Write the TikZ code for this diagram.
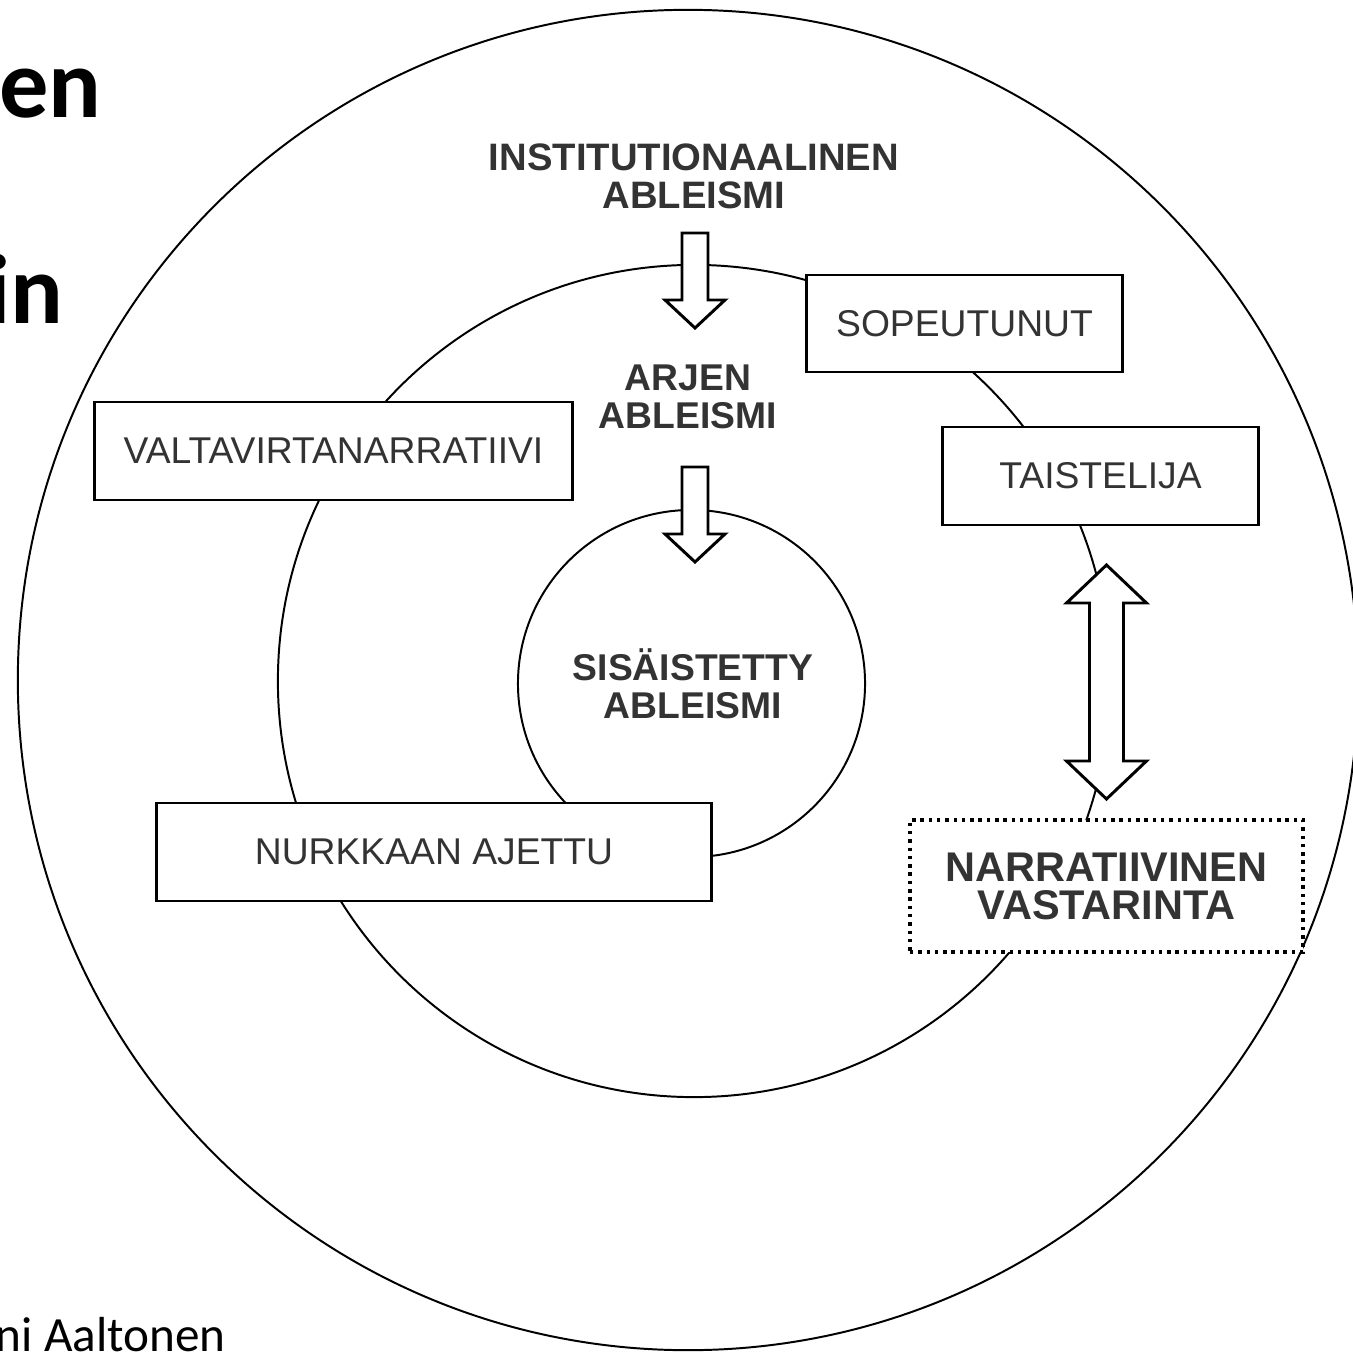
\documentclass[tikz,border=0pt]{standalone}
\usepackage{fontspec}
\setmainfont{Liberation Sans}
\newfontfamily\slidefont{Carlito}
\usetikzlibrary{positioning}
\definecolor{txtgray}{HTML}{333333}

\begin{document}
\begin{tikzpicture}[
  x=0.025cm, y=-0.025cm,
  ring/.style={draw, circle, line width=1.4pt, inner sep=0pt},
  box/.style={draw, rectangle, line width=2.1pt, fill=white, minimum height=2.45cm, inner sep=0pt, text=txtgray, font=\fontsize{26.5}{32}\selectfont},
  level/.style={align=center, inner sep=0pt, text=txtgray, font=\bfseries\fontsize{26.5}{27}\selectfont},
  counter/.style={draw, rectangle, line width=2.5pt, dash pattern=on 2.5pt off 3.4pt, fill=white, minimum width=9.825cm, minimum height=3.3cm, align=center, text=txtgray, font=\bfseries\fontsize{29.5}{27}\selectfont},
  blockarrow/.style={draw, line width=2.1pt, fill=white, line join=miter},
  downarrow/.pic={\path[blockarrow] (-13,0) -- (13,0) -- (13,67) -- (30,67) -- (0,95) -- (-30,67) -- (-13,67) -- cycle;},
  slide/.style={anchor=base east, inner sep=0pt}
]
\useasboundingbox (0,0) rectangle (1353,1354);

% rings
\node[ring, minimum size=33.5cm] (outer) at (688,680) {};
\node[ring, minimum size=20.8cm] (middle) at (694,681) {};
\node[ring, minimum size=8.675cm] (inner) at (691.5,683.5) {};

% levels
\node[level, font=\bfseries\fontsize{27.2}{27}\selectfont] (inst) at (694,176.5) {INSTITUTIONAALINEN\\ABLEISMI};
\node[level] (arki) at (688,397) {ARJEN\\ABLEISMI};
\node[level] (sisa) at (693,684) {SIS\"AISTETTY\\ABLEISMI};

\pic at (695,233) {downarrow};
\pic at (695,467) {downarrow};

% narratives
\node[box, minimum width=11.93cm] (valta) at (333.5,451) {VALTAVIRTANARRATIIVI};
\node[box, minimum width=7.875cm, minimum height=2.425cm] (sopeu) at (964.5,323.5) {SOPEUTUNUT};
\node[box, minimum width=7.875cm] (taist) at (1100.5,476) {TAISTELIJA};
\node[box, minimum width=13.85cm] (nurkka) at (434,852) {NURKKAAN AJETTU};
\node[counter] (vasta) at (1106.5,886) {NARRATIIVINEN\\VASTARINTA};

\draw[blockarrow, shift={(1106.5,682)}] (0,-117) -- (40,-79) -- (17,-79) -- (17,79) -- (40,79)
  -- (0,117) -- (-40,79) -- (-17,79) -- (-17,-79) -- (-40,-79) -- cycle;

% slide text cut off at the left
\node[slide, font=\slidefont\bfseries\fontsize{70}{70}\selectfont] (titleA) at (102,117) {en};
\node[slide, font=\slidefont\bfseries\fontsize{70}{70}\selectfont] (titleB) at (64,323) {in};
\node[slide, font=\slidefont\fontsize{35}{35}\selectfont] (author) at (226,1351) {ni Aaltonen};
\end{tikzpicture}
\end{document}
